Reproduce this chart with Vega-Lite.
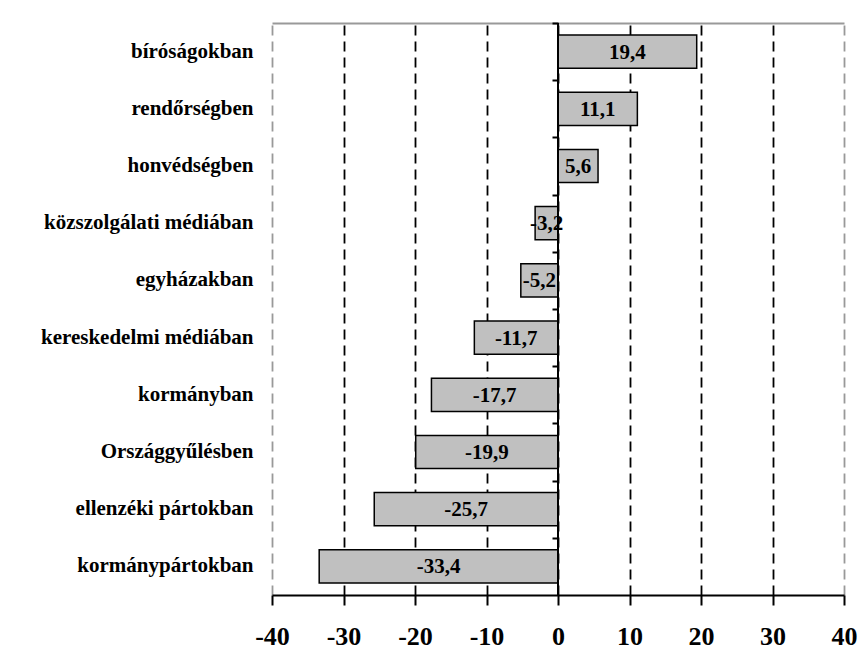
{
  "$schema": "https://vega.github.io/schema/vega-lite/v6.json",
  "width": 572,
  "height": 572,
  "autosize": "none",
  "padding": {"left": 272, "top": 23, "right": 20, "bottom": 68},
  "background": "white",
  "config": {
    "locale": {"number": {"decimal": ",", "thousands": " ", "grouping": [3], "currency": ["", ""], "minus": "-"}},
    "view": {"stroke": null},
    "font": "Liberation Serif"
  },
  "data": {
    "values": [
      {"intezmeny": "bíróságokban", "ertek": 19.4},
      {"intezmeny": "rendőrségben", "ertek": 11.1},
      {"intezmeny": "honvédségben", "ertek": 5.6},
      {"intezmeny": "közszolgálati médiában", "ertek": -3.2},
      {"intezmeny": "egyházakban", "ertek": -5.2},
      {"intezmeny": "kereskedelmi médiában", "ertek": -11.7},
      {"intezmeny": "kormányban", "ertek": -17.7},
      {"intezmeny": "Országgyűlésben", "ertek": -19.9},
      {"intezmeny": "ellenzéki pártokban", "ertek": -25.7},
      {"intezmeny": "kormánypártokban", "ertek": -33.4}
    ]
  },
  "resolve": {"scale": {"x": "independent"}, "axis": {"x": "independent", "y": "independent"}},
  "layer": [
    {
      "mark": {"type": "bar", "fill": "#c0c0c0", "stroke": "black", "strokeWidth": 1.5},
      "encoding": {
        "y": {
          "field": "intezmeny", "type": "nominal", "sort": null,
          "scale": {"paddingInner": 0.42, "paddingOuter": 0.21},
          "axis": {"title": null, "domain": false, "ticks": false, "labelFont": "Liberation Serif", "labelFontWeight": "bold", "labelFontSize": 21, "labelColor": "black", "labelPadding": 19, "labelLimit": 300}
        },
        "x": {
          "field": "ertek", "type": "quantitative",
          "scale": {"domain": [-40, 40], "nice": false, "zero": false},
          "axis": {
            "title": null, "values": [-40, -30, -20, -10, 0, 10, 20, 30, 40],
            "format": "d",
            "grid": true, "gridDash": [10, 6], "gridWidth": 1.8,
            "gridColor": {"condition": {"test": "abs(datum.value) == 40", "value": "#999999"}, "value": "black"},
            "domain": true, "domainColor": "black", "domainWidth": 2,
            "ticks": true, "tickColor": "black", "tickWidth": 2, "tickSize": 10,
            "labelFont": "Liberation Serif", "labelFontWeight": "bold", "labelFontSize": 26, "labelColor": "black",
            "labelPadding": 18, "labelFlush": false, "labelOverlap": false
          }
        }
      }
    },
    {
      "mark": {"type": "rule", "color": "black", "strokeWidth": 2},
      "encoding": {
        "x": {"datum": 0, "type": "quantitative", "scale": {"domain": [-40, 40], "nice": false, "zero": false}, "axis": null}
      }
    },
    {
      "mark": {"type": "text", "font": "Liberation Serif", "fontWeight": "bold", "fontSize": 21, "color": "black", "align": "center", "baseline": "middle", "dy": 1},
      "encoding": {
        "y": {
          "field": "intezmeny", "type": "nominal", "sort": null,
          "axis": {"title": null, "orient": "left", "offset": -286, "labels": false, "domain": false, "ticks": true, "bandPosition": 0, "tickOffset": -12, "tickColor": "black", "tickWidth": 2, "tickSize": 6, "grid": false}
        },
        "x": {
          "field": "ertek", "type": "quantitative",
          "scale": {"domain": [-80, 80], "nice": false, "zero": false},
          "axis": {"title": null, "orient": "top", "labels": false, "ticks": false, "grid": false, "domain": true, "domainColor": "#999999", "domainWidth": 2}
        },
        "text": {"field": "ertek", "type": "quantitative", "format": ".1f"}
      }
    }
  ]
}
